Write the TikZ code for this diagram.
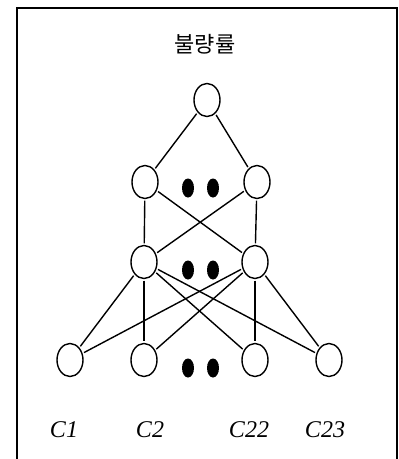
\documentclass[tikz,border=0pt]{standalone}
\usepackage{fontspec}
\setmainfont{Liberation Serif}
\newfontfamily\kofont{Noto Sans CJK KR}
\usetikzlibrary{shapes.geometric}
\begin{document}
\begin{tikzpicture}[x=1pt,y=-1pt,
  nd/.style={ellipse,draw,line width=1.4pt,minimum width=26pt,minimum height=33pt,inner sep=0pt},
  dot/.style={ellipse,fill=black,minimum width=12pt,minimum height=19pt,inner sep=0pt},
  edge/.style={line width=1.4pt,shorten <=1.5pt,shorten >=1.5pt},
  lbl/.style={font=\fontsize{24}{26}\selectfont\itshape}]
\useasboundingbox (0,0) rectangle (399,459);
\begin{scope}
\clip (0,0) rectangle (399,459);
\draw[line width=1.5pt] (17,8) rectangle (397,470);
\end{scope}
\node[font=\kofont\fontsize{22}{24}\selectfont] (title) at (205,44) {불량률};
\node[nd] (t) at (207,100) {};
\node[nd] (a1) at (145,182) {};
\node[nd] (a2) at (257,182) {};
\node[nd] (b1) at (144,262) {};
\node[nd] (b2) at (255,262) {};
\node[nd] (c1) at (70,360) {};
\node[nd] (c2) at (144,360) {};
\node[nd] (c22) at (255,360) {};
\node[nd] (c23) at (329,360) {};
\node[dot] (d1) at (188,188) {};
\node[dot] (d2) at (213,188) {};
\node[dot] (d3) at (188,270) {};
\node[dot] (d4) at (213,270) {};
\node[dot] (d5) at (188,368) {};
\node[dot] (d6) at (213,368) {};
\node[lbl] (l1) at (64,430) {C1};
\node[lbl] (l2) at (150,430) {C2};
\node[lbl] (l3) at (249,430) {C22};
\node[lbl] (l4) at (325,430) {C23};
\draw[edge] (t) -- (a1);
\draw[edge] (t) -- (a2);
\draw[edge] (a1) -- (b1);
\draw[edge] (a1) -- (b2);
\draw[edge] (a2) -- (b1);
\draw[edge] (a2) -- (b2);
\draw[edge] (b1) -- (c1);
\draw[edge] (b1) -- (c2);
\draw[edge] (b1) -- (c22);
\draw[edge] (b1) -- (c23);
\draw[edge] (b2) -- (c1);
\draw[edge] (b2) -- (c2);
\draw[edge] (b2) -- (c22);
\draw[edge] (b2) -- (c23);
\end{tikzpicture}
\end{document}
